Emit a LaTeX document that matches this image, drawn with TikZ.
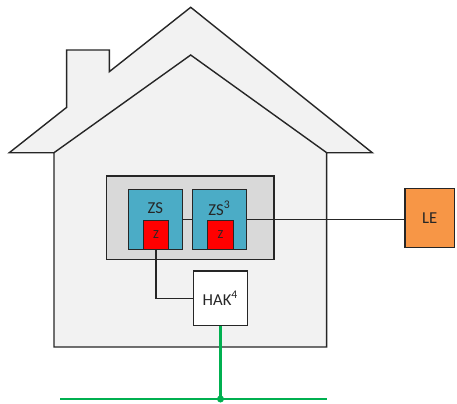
\documentclass[tikz,border=0pt]{standalone}
\usepackage{fontspec}
\setmainfont{Carlito}
\usetikzlibrary{positioning}

\definecolor{housefill}{HTML}{F2F2F2}
\definecolor{panelfill}{HTML}{D9D9D9}
\definecolor{zsblue}{HTML}{4BACC6}
\definecolor{leorange}{HTML}{F79646}
\definecolor{netgreen}{HTML}{00B050}
\definecolor{ink}{HTML}{262626}

\tikzset{
  outline/.style={draw=ink, line width=0.8pt, fill=housefill, line join=miter},
  panelbox/.style={draw=ink, line width=0.8pt, fill=panelfill, minimum width=3.346cm, minimum height=1.666cm, inner sep=0pt},
  zsbox/.style={draw=ink, line width=0.8pt, fill=zsblue, minimum width=1.08cm, minimum height=1.2cm, inner sep=0pt},
  zbox/.style={draw=ink, line width=0.8pt, fill=red, minimum width=0.51cm, minimum height=0.572cm, inner sep=0pt, font=\fontsize{7}{8}\selectfont, text=ink},
  lbl/.style={inner sep=0pt, text=ink, font=\fontsize{9.5}{11}\selectfont},
  wire/.style={draw=ink, line width=0.8pt},
  grid/.style={draw=netgreen, line width=1.2pt}
}

\begin{document}
\begin{tikzpicture}[x=0.02cm,y=-0.02cm]
  \useasboundingbox (0,0) rectangle (457,403);

  %House with chimney
  \draw[outline] (54,347) -- (54,152.7) -- (9.3,152.7) -- (66.7,107.3) -- (66.7,50)
    -- (109.3,50) -- (109.3,71.7) -- (190.7,7.3) -- (372.3,152.7) -- (326.7,152.7)
    -- (326.7,347) -- cycle;
  %Inner roof line
  \draw[draw=ink, line width=0.8pt] (54,152.7) -- (190.7,55) -- (326.7,152.7);

  %Meter panel
  \node[panelbox] (panel) at (190.3,217.7) {};
  \node[zsbox] (zs) at (155.3,219.3) {};
  \node[zsbox] (zs3) at (219.5,219.3) {};
  \node[lbl] (zs-lbl) at (155.3,208) {ZS};
  \node[lbl] (zs3-lbl) at (219.5,208) {ZS\textsuperscript{3}};
  \node[zbox] (z1) at (156,235) {Z};
  \node[zbox] (z2) at (220.5,235) {Z};

  %Outside boxes
  \node[draw=ink, line width=0.8pt, fill=leorange, minimum width=0.986cm, minimum height=1.188cm, inner sep=0pt, lbl] (le) at (429.7,218) {LE};
  \node[draw=ink, line width=0.8pt, fill=white, minimum width=1.088cm, minimum height=1.094cm, inner sep=0pt, lbl] (hak) at (220.5,298.3) {HAK\textsuperscript{4}};

  %Wiring
  \draw[wire] (zs.east) -- (zs3.west);
  \draw[wire] (zs3.east) -- (zs3.east -| le.west);
  \draw[wire] (z1.south) |- (hak.west);

  %Grid connection
  \coordinate (gl) at (60,399);
  \coordinate (gr) at (327,399);
  \coordinate (tap) at (hak.south |- gl);
  \draw[grid] (gl) -- (gr);
  \draw[grid] (hak.south) -- (tap);
  \fill[netgreen] (tap) circle (3.5);
\end{tikzpicture}
\end{document}
